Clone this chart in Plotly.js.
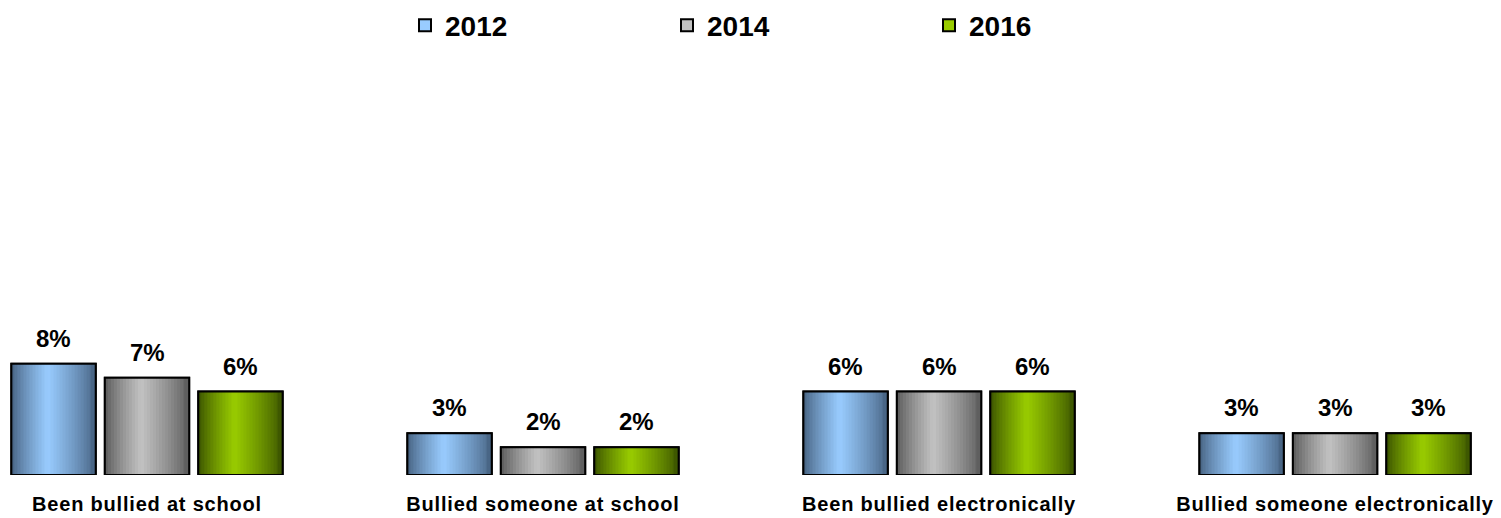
<!DOCTYPE html>
<html>
<head>
<meta charset="utf-8">
<script src="https://cdn.plot.ly/plotly-3.0.1.min.js"></script>
<style>
  html, body { margin: 0; padding: 0; background: #fff; }
  #chart { width: 1501px; height: 518px; }
  .xtick text { letter-spacing: 0.8px; }
</style>
</head>
<body>
<div id="chart"></div>
<script>
// ---- data ----
const categories = ['Been bullied at school', 'Bullied someone at school', 'Been bullied electronically', 'Bullied someone electronically'];
const years = ['2012', '2014', '2016'];
const values2012 = [8, 3, 6, 3];
const values2014 = [7, 2, 6, 3];
const values2016 = [6, 2, 6, 3];

// ---- styles ----
const seriesValues = [values2012, values2014, values2016];
const edgeColors = [[68, 95, 126], [88, 88, 88], [56, 80, 0]];
const centerColors = [[153, 204, 255], [194, 194, 194], [153, 204, 0]];
const seriesOffsets = [-0.236, 0, 0.236];
const barWidth = 0.213;
const nSlices = 28;
const peak = 0.43;

const xIdx = categories.map((c, i) => i);
const rgb = c => 'rgb(' + c.map(Math.round).join(',') + ')';
const mix = (a, b, f) => a.map((v, k) => v + (b[k] - v) * f);

const traces = [];
const annotations = [];
seriesValues.forEach((vals, s) => {
  const off = seriesOffsets[s];
  // base bar (legend entry)
  traces.push({
    type: 'bar', name: years[s], x: xIdx, y: vals,
    width: barWidth, offset: off - barWidth / 2,
    marker: { color: rgb(centerColors[s]), line: { color: '#000', width: 2 } },
    hoverinfo: 'skip', showlegend: true
  });
  // gradient slices
  const sw = barWidth / nSlices;
  for (let k = 0; k < nSlices; k++) {
    const t = (k + 0.5) / nSlices;
    let f = t < peak ? t / peak : (1 - t) / (1 - peak);
    f = Math.pow(f, 0.8);
    traces.push({
      type: 'bar', x: xIdx, y: vals,
      width: sw * 1.6, offset: off - barWidth / 2 + k * sw - (k === nSlices - 1 ? 0.6 * sw : 0),
      marker: { color: rgb(mix(edgeColors[s], centerColors[s], f)), line: { width: 0 } },
      hoverinfo: 'skip', showlegend: false
    });
  }
  // outline on top
  traces.push({
    type: 'bar', x: xIdx, y: vals,
    width: barWidth, offset: off - barWidth / 2,
    marker: { color: 'rgba(0,0,0,0)', line: { color: '#000', width: 2 } },
    hoverinfo: 'skip', showlegend: false
  });
  vals.forEach((v, i) => {
    annotations.push({
      x: i + off, y: v, xref: 'x', yref: 'y',
      text: v + '%', showarrow: false, yanchor: 'bottom', yshift: 10,
      font: { family: 'Liberation Sans, Arial, sans-serif', size: 24, color: '#000', weight: 'bold' }
    });
  });
});

const layout = {
  width: 1501, height: 518,
  margin: { l: 0, r: 0, t: 55, b: 43, pad: 0 },
  paper_bgcolor: '#fff', plot_bgcolor: '#fff',
  barmode: 'overlay',
  font: { family: 'Liberation Sans, Arial, sans-serif', color: '#000' },
  xaxis: {
    type: 'linear', range: [-0.3712, 3.419],
    tickvals: xIdx, ticktext: categories,
    showgrid: false, zeroline: false, showline: false, ticks: '',
    ticklabelstandoff: 15,
    tickfont: { size: 20, weight: 'bold', color: '#000' }
  },
  yaxis: {
    range: [0, 30], visible: false, showgrid: false, zeroline: false
  },
  showlegend: true,
  legend: {
    orientation: 'h', x: 405 / 1501, xanchor: 'left', y: 1.138, yanchor: 'top',
    entrywidth: 217, entrywidthmode: 'pixels',
    font: { size: 28, weight: 'bold', color: '#000' },
    traceorder: 'normal', itemclick: false, itemdoubleclick: false
  },
  annotations: annotations,
  hovermode: false
};

Plotly.newPlot('chart', traces, layout, { displayModeBar: false, staticPlot: true });
</script>
</body>
</html>
